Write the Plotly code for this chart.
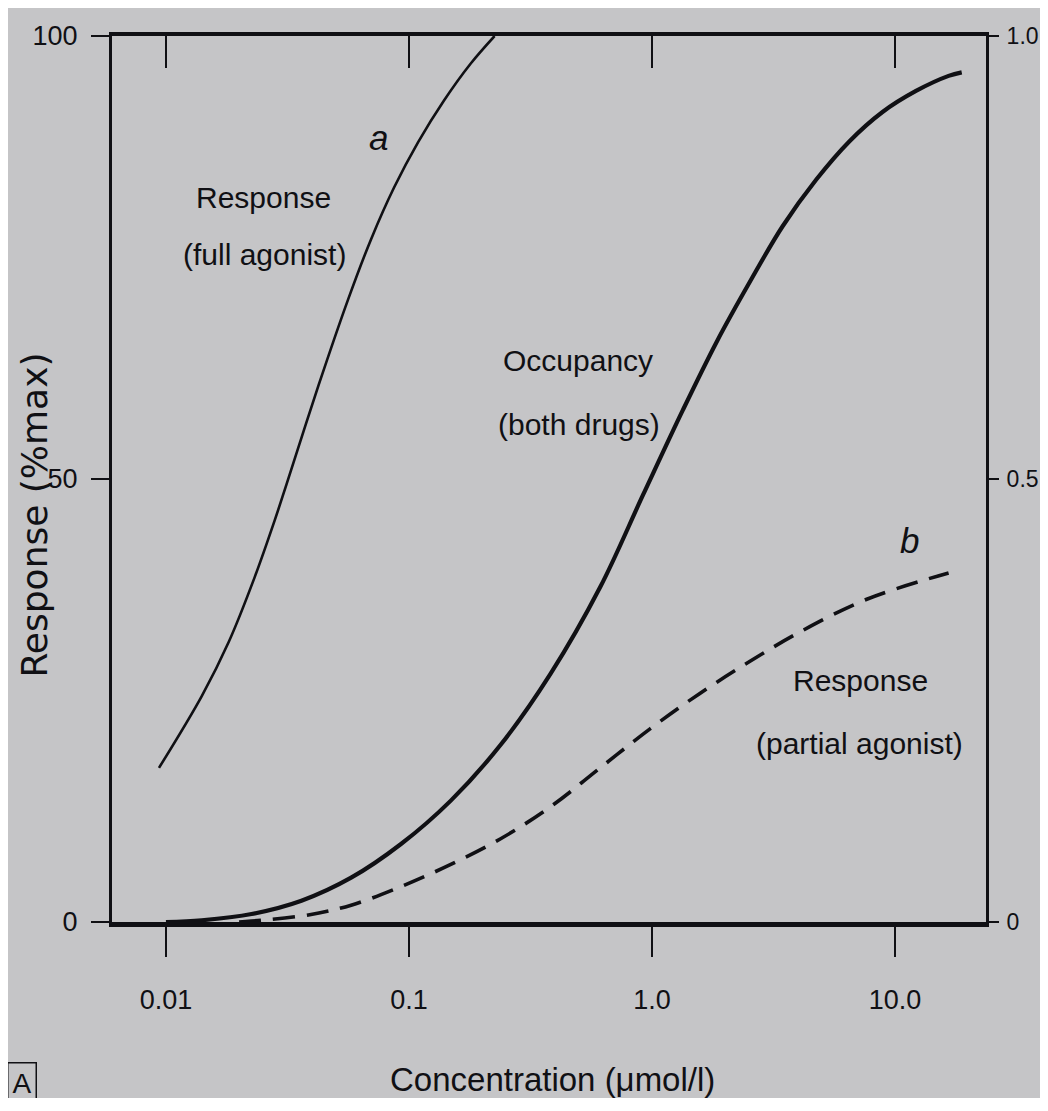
import plotly.graph_objects as go

# ---- data ----
# Full agonist response (curve a), % of max
conc_a = [0.00936, 0.01404, 0.01812, 0.02316, 0.02799, 0.03133, 0.04236, 0.05623,
          0.0699, 0.0868, 0.1089, 0.1391, 0.1795, 0.225]
resp_a = [17.4, 25.5, 31.6, 38.9, 45.3, 49.4, 60.5, 70.3, 77.1, 82.9, 88.0, 92.7, 96.9, 100.0]

# Occupancy (both drugs), fraction 0-1 (right axis)
conc_occ = [0.01, 0.01404, 0.0225, 0.03609, 0.0578, 0.0927, 0.1486, 0.2383, 0.382, 0.612,
            0.918, 1.340, 1.846, 2.52, 3.44, 4.74, 6.48, 8.85, 12.19, 16.6, 18.8]
occ = [0.0, 0.002, 0.009, 0.024, 0.050, 0.088, 0.137, 0.200, 0.280, 0.378,
       0.482, 0.578, 0.655, 0.722, 0.785, 0.838, 0.881, 0.914, 0.938, 0.955, 0.959]

# Partial agonist response (curve b), % of max
conc_b = [0.02, 0.0225, 0.03855, 0.0578, 0.0927, 0.1486, 0.2383, 0.382, 0.612, 0.981,
          1.573, 2.52, 4.04, 7.60, 16.6]
resp_b = [0.0, 0.1, 0.8, 1.9, 4.0, 6.5, 9.4, 13.0, 17.4, 21.8, 25.8, 29.4, 32.7, 36.4, 39.4]

x_tickvals = [0.01, 0.1, 1.0, 10.0]
x_ticktext = ["0.01", "0.1", "1.0", "10.0"]
yl_tickvals = [0, 50, 100]
yl_ticktext = ["0", "50", "100"]
yr_tickvals = [0, 0.5, 1.0]
yr_ticktext = ["0", "0.5", "1.0"]

BG = "#c5c5c7"
INK = "#101014"
SANS = "Liberation Sans, Arial, Helvetica, sans-serif"
XR = [-2.222, 1.374]

fig = go.Figure()
fig.add_trace(go.Scatter(x=conc_a, y=resp_a, mode="lines", line=dict(color=INK, width=2.6, shape="spline"),
                         xaxis="x", yaxis="y", showlegend=False, hoverinfo="skip"))
fig.add_trace(go.Scatter(x=conc_b, y=resp_b, mode="lines",
                         line=dict(color=INK, width=3.6, dash="22px,12px", shape="spline"),
                         xaxis="x", yaxis="y", showlegend=False, hoverinfo="skip"))
fig.add_trace(go.Scatter(x=conc_occ, y=occ, mode="lines", line=dict(color=INK, width=4.2, shape="spline"),
                         xaxis="x2", yaxis="y2", showlegend=False, hoverinfo="skip"))

fig.update_layout(
    width=1075, height=1090, autosize=False,
    margin=dict(l=104, r=97, t=28, b=176),
    paper_bgcolor=BG, plot_bgcolor=BG,
    font=dict(family=SANS, color=INK),
    xaxis=dict(type="log", range=XR, tickvals=x_tickvals, ticktext=x_ticktext,
               showline=True, linecolor=INK, linewidth=4.5, ticks="outside", ticklen=30,
               tickwidth=2, tickcolor=INK, showgrid=False, zeroline=False,
               tickfont=dict(family=SANS, size=27, color=INK), ticklabelstandoff=20),
    xaxis2=dict(type="log", range=XR, tickvals=x_tickvals, overlaying="x", side="top",
                anchor="y2", showline=True, linecolor=INK, linewidth=3.5, ticks="inside",
                ticklen=32, tickwidth=2, tickcolor=INK, showticklabels=False,
                showgrid=False, zeroline=False),
    yaxis=dict(range=[0, 100], tickvals=yl_tickvals, ticktext=yl_ticktext,
               showline=True, linecolor=INK, linewidth=3, ticks="outside", ticklen=18,
               tickwidth=2, tickcolor=INK, showgrid=False, zeroline=False,
               tickfont=dict(family=SANS, size=27, color=INK), ticklabelstandoff=8),
    yaxis2=dict(range=[0, 1], tickvals=yr_tickvals, ticktext=yr_ticktext, overlaying="y",
                side="right", anchor="x2", showline=True, linecolor=INK, linewidth=3,
                ticks="outside", ticklen=10, tickwidth=2, tickcolor=INK, showgrid=False,
                zeroline=False, tickfont=dict(family=SANS, size=23, color=INK),
                ticklabelstandoff=3),
)

def label(text, xp, yp, size=30, italic=False, **kw):
    fig.add_annotation(text=(f"<i>{text}</i>" if italic else text), x=xp, y=yp,
                       xref="paper", yref="paper", xanchor="center", yanchor="middle",
                       showarrow=False, font=dict(family=SANS, size=size, color=INK), **kw)

label("Response", 0.1737, 0.818)
label("(full agonist)", 0.1749, 0.753)
label("a", 0.305, 0.886, size=35, italic=True)
label("Occupancy", 0.533, 0.634)
label("(both drugs)", 0.534, 0.561)
label("b", 0.912, 0.431, size=35, italic=True)
label("Response", 0.856, 0.273)
label("(partial agonist)", 0.855, 0.202)
label("Concentration (μmol/l)", 0.504, -0.178, size=33)
label("A", -0.103, -0.182, size=28, bordercolor=INK, borderwidth=1.5, borderpad=4)

fig.add_annotation(text="Response (%max)", x=-0.089, y=0.459, xref="paper", yref="paper",
                   textangle=-90, xanchor="center", yanchor="middle", showarrow=False,
                   font=dict(family="DejaVu Sans, Liberation Sans, sans-serif", size=36, color=INK))

fig.write_html("out.html")
